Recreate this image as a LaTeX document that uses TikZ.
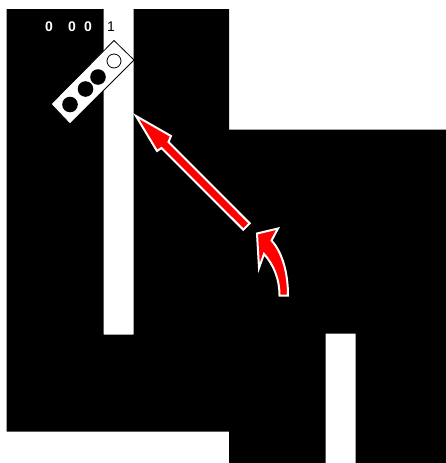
\documentclass[tikz,border=0pt]{standalone}
\usepackage{fontspec}
\setmainfont{Liberation Sans}
\tikzset{
  redarrow/.style={fill=red,draw=white,line width=2pt,line join=miter,miter limit=10},
  digitw/.style={text=white,font=\fontsize{14}{14}\bfseries\selectfont,inner sep=0pt,anchor=center},
  digitb/.style={text=black,font=\fontsize{14}{14}\selectfont,inner sep=0pt,anchor=center},
  hole/.style={fill=black,draw=none},
}
\begin{document}
\begin{tikzpicture}[x=1pt,y=-1pt]
\useasboundingbox (0,0) rectangle (446,463);
\fill[white] (0,0) rectangle (446,463);
\fill[black] (6.5,9) -- (103.5,9) -- (103.5,334.5) -- (133.5,334.5) -- (133.5,9) -- (229,9) -- (229,129.5) -- (446,129.5) -- (446,463) -- (355.5,463) -- (355.5,333.5) -- (325.5,333.5) -- (325.5,463) -- (229,463) -- (229,431.5) -- (6.5,431.5) -- cycle;
% plate
\draw[black,fill=white,line width=0.8pt] (114,40.5) -- (134,60) -- (70,124) -- (51,104) -- cycle;
\draw[black,fill=white,line width=0.8pt] (114,61) circle (7);
\fill[hole] (98,77) circle (7.8);
\fill[hole] (85.5,89) circle (7.8);
\fill[hole] (70,104.5) circle (7.8);
% labels
\node[digitw] (d1) at (49,26.5) {0};
\node[digitw] (d2) at (72,26.5) {0};
\node[digitw] (d3) at (88,26.5) {0};
\node[digitb] (d4) at (111,26.5) {1};
% straight arrow
\draw[redarrow] (136,116) -- (171,136) -- (168.5,142) -- (249.7,223.3) -- (243.3,229.7) -- (161.5,148) -- (157,151) -- cycle;
% curved arrow
\draw[redarrow] (257,233.5) -- (278,228.5) -- (271.5,240.5) .. controls (282,252) and (288,272) .. (288,295.5) -- (279.5,295.5) .. controls (279.5,278) and (273,264) .. (264,254) -- (259,268) -- cycle;
\end{tikzpicture}
\end{document}
